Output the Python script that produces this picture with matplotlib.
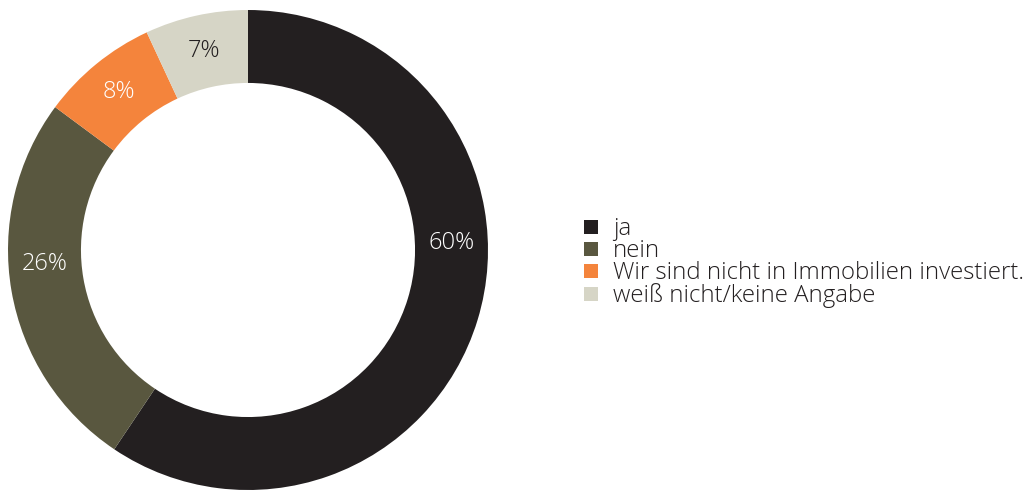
import matplotlib
matplotlib.use("Agg")
import matplotlib.pyplot as plt
from matplotlib.lines import Line2D
import numpy as np

categories = ["ja", "nein", "Wir sind nicht in Immobilien investiert.", "weiß nicht/keine Angabe"]
values = [60, 26, 8, 7]
colors = ["#231f20", "#59573f", "#f4843c", "#d6d5c6"]
label_colors = ["white", "white", "white", "#231f20"]
# label placement angle (clockwise from 12 o'clock, degrees); None = wedge middle
label_angles = [88, 266, None, None]

plt.rcParams['font.family'] = ['Open Sans', 'DejaVu Sans']
plt.rcParams['font.weight'] = 'light'

W, H = 1027, 491
fig = plt.figure(figsize=(W / 100, H / 100), dpi=100)
ax = fig.add_axes([8 / W, 1 / H, 480 / W, 480 / H])

width = 0.304
wedges, _ = ax.pie(values, colors=colors, startangle=90, counterclock=False,
                   radius=1, wedgeprops=dict(width=width, linewidth=0))
ax.set_xlim(-1, 1)
ax.set_ylim(-1, 1)
ax.set_aspect('equal')
ax.axis('off')

r_lab = 1 - width / 2
for w, v, c, la in zip(wedges, values, label_colors, label_angles):
    if la is None:
        ang = np.deg2rad((w.theta1 + w.theta2) / 2)
    else:
        ang = np.deg2rad(90 - la)
    ax.text(r_lab * np.cos(ang), r_lab * np.sin(ang), f"{v}%", ha='center', va='center',
            fontsize=17, color=c, fontweight='light')

handles = [Line2D([], [], marker='s', linestyle='none', markersize=10.3,
                  markerfacecolor=c, markeredgewidth=0) for c in colors]
leg = fig.legend(handles, categories, loc='upper left',
                 bbox_to_anchor=(580 / W, 1 - 217 / H), frameon=False,
                 prop=dict(size=17.3, weight='light'), handlelength=0.92, handletextpad=0.45,
                 labelspacing=-0.08, borderaxespad=0, borderpad=0)
for t in leg.get_texts():
    t.set_color("#231f20")

fig.savefig("out.png", dpi=100)
